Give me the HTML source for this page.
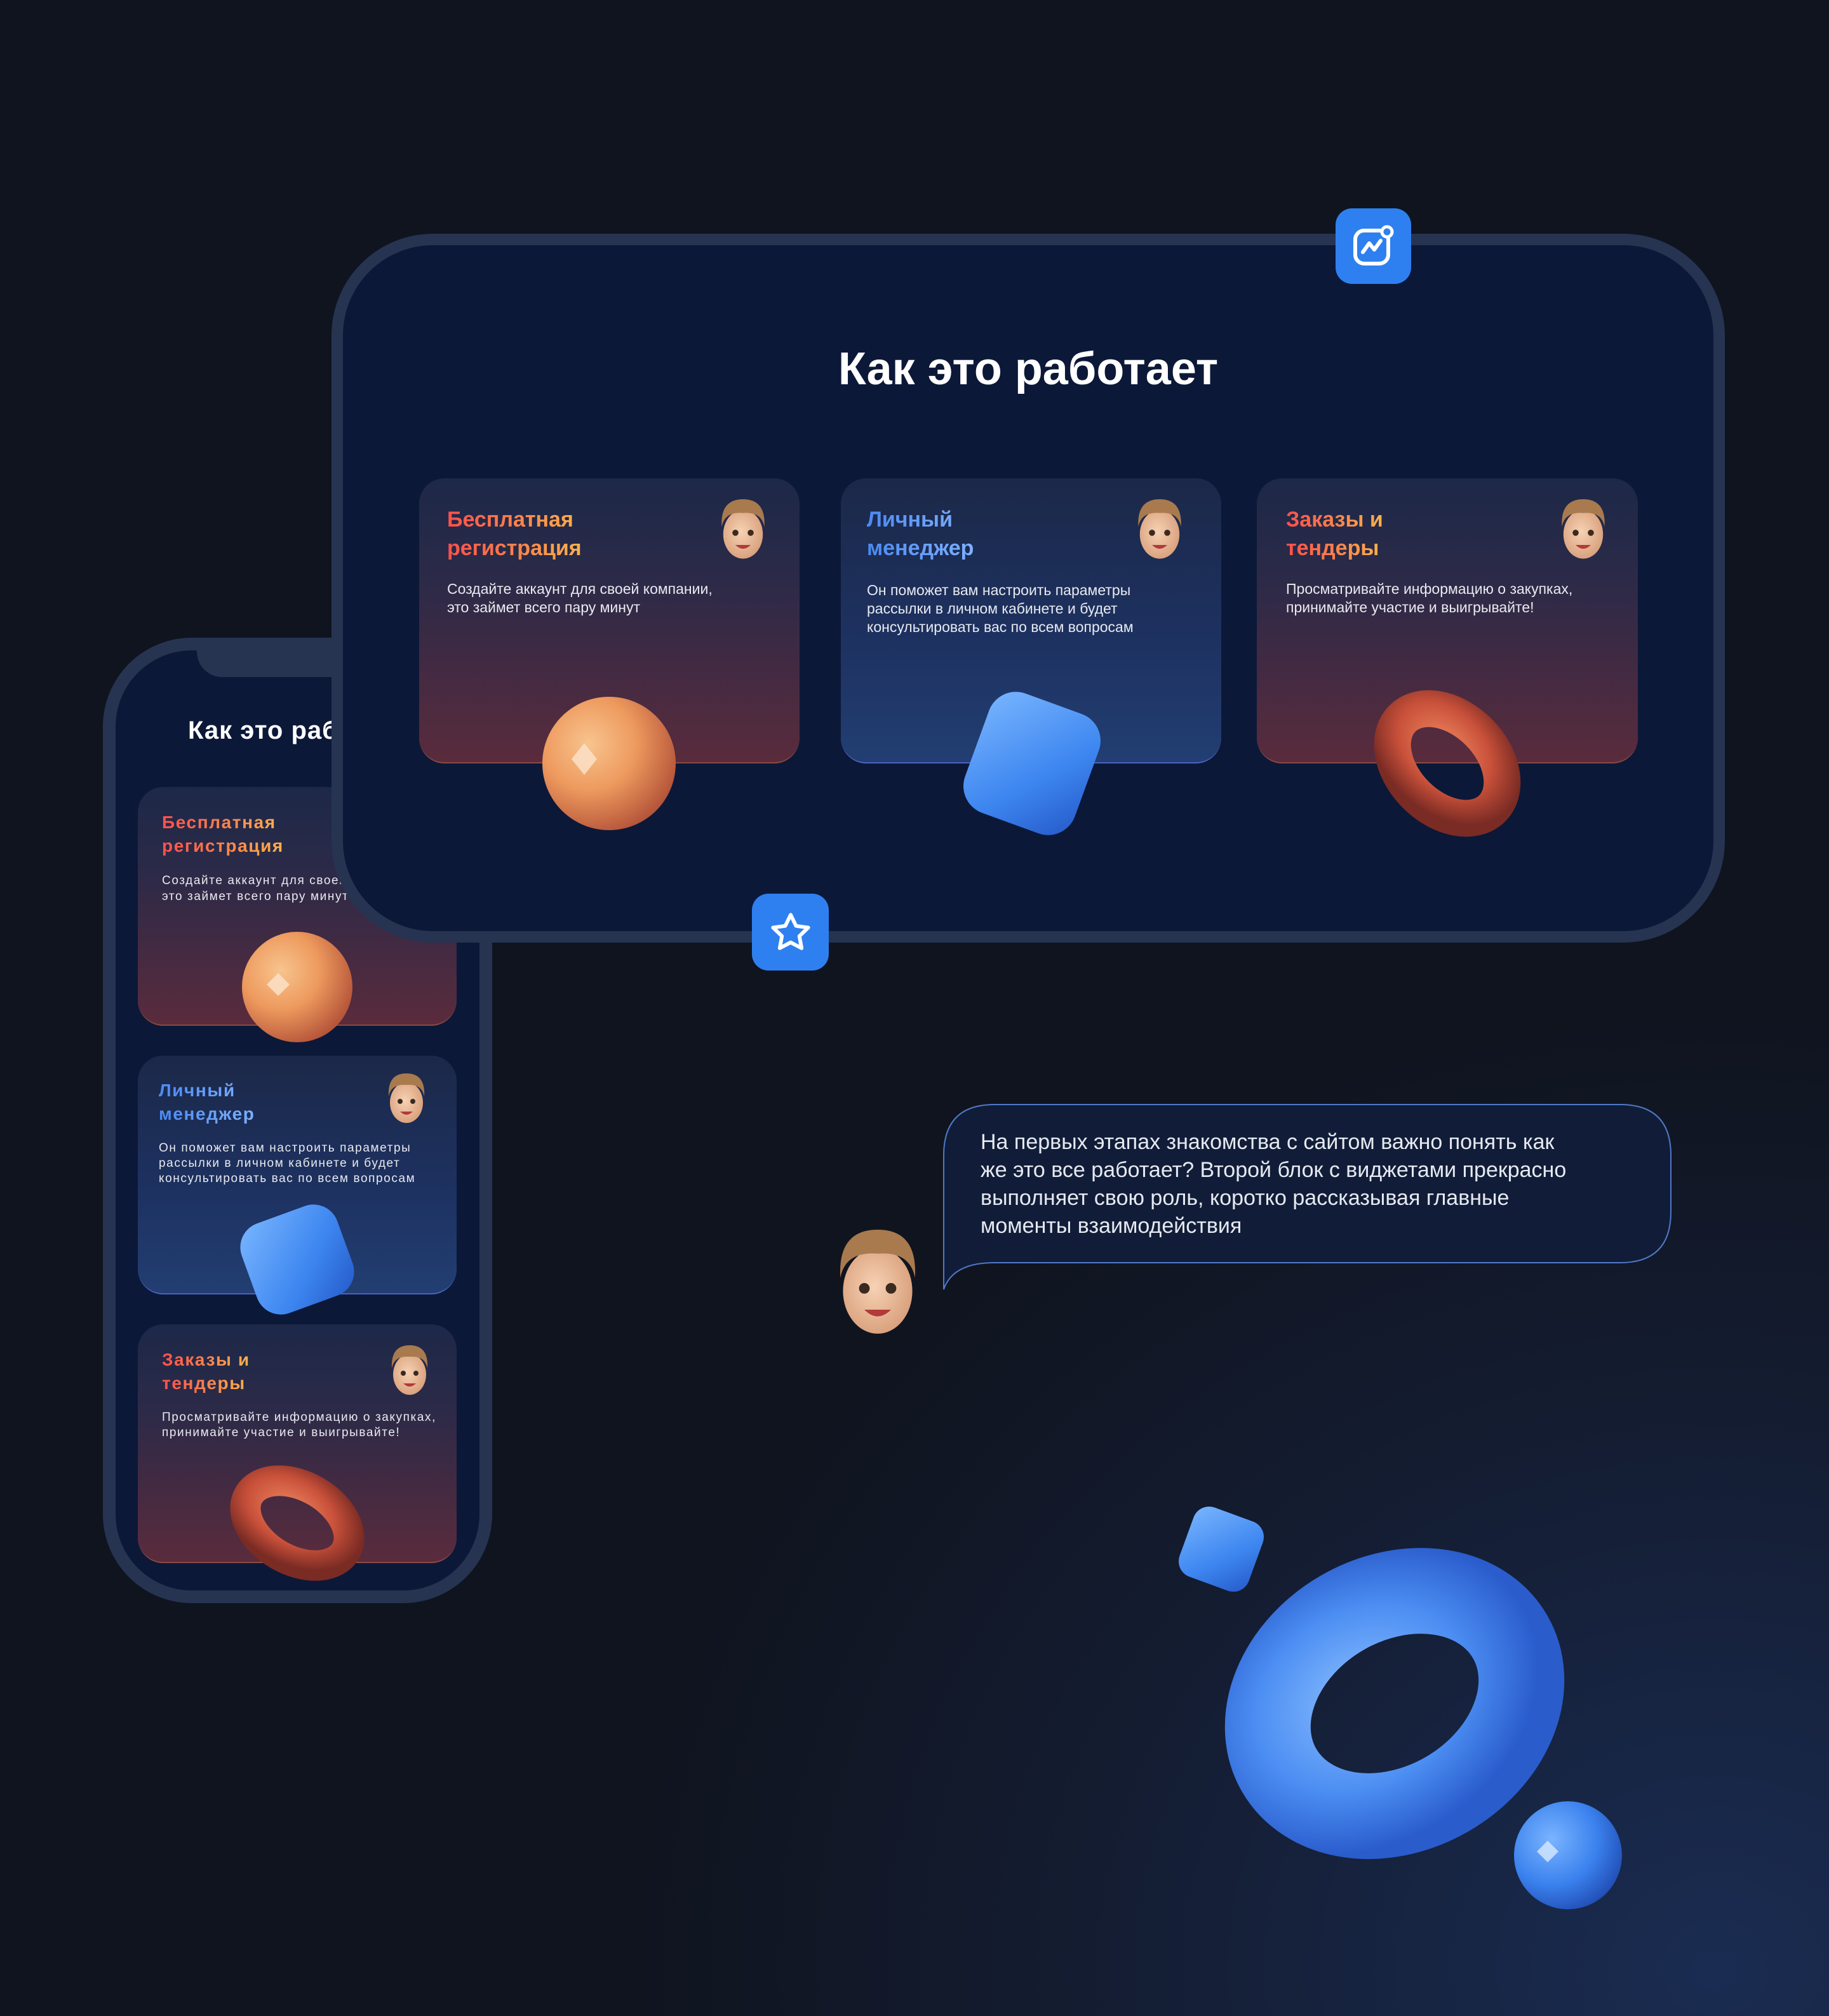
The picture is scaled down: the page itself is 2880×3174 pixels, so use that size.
<!DOCTYPE html>
<html><head><meta charset="utf-8"><style>
*{margin:0;padding:0;box-sizing:border-box}
body{width:2880px;height:3174px;overflow:hidden;position:relative;font-family:"Liberation Sans","Noto Sans CJK SC",sans-serif;
background:radial-gradient(ellipse 1700px 1500px at 2700px 3100px,#1a2c52 0%,#141d33 55%,#10141f 100%);color:#fff}
.abs{position:absolute}
.frame{position:absolute;border:18px solid #263452;background:#0c1838}
.card{position:absolute;border-radius:40px;overflow:hidden}
.red{background:linear-gradient(180deg,#1d2848 0%,#2b2a48 35%,#5a2b3c 100%);border-bottom:2px solid #8a4a40}
.blue{background:linear-gradient(180deg,#1c2848 0%,#1d3160 55%,#223e72 100%);border-bottom:2px solid #4a62c0}
.tt{position:absolute;font-weight:bold}
.tr{background:linear-gradient(90deg,#ff4f4c,#ffb24a);-webkit-background-clip:text;background-clip:text;color:transparent}
.tb{background:linear-gradient(90deg,#4a8af2,#7fb1ff);-webkit-background-clip:text;background-clip:text;color:transparent}
.bd{position:absolute;color:#e8eaf0}
.ph{letter-spacing:1.6px}
.icon{position:absolute;background:#2e80f0;border-radius:26px;display:flex;align-items:center;justify-content:center}
</style></head><body>

<!-- PHONE -->
<div class="frame" style="left:162px;top:1004px;width:613px;height:1520px;border-width:20px;border-radius:140px;background:#0c1838"></div>
<div class="abs" style="left:310px;top:1004px;width:420px;height:62px;background:#263452;border-radius:0 0 0 40px"></div>
<div class="abs" style="left:296px;top:1128px;font-size:40px;font-weight:bold;letter-spacing:1px">Как это работает</div>

<div class="card red" style="left:217px;top:1239px;width:502px;height:376px"></div>
<div class="tt tr ph" style="left:255px;top:1276px;font-size:28px;line-height:37px">Бесплатная<br>регистрация</div>
<div class="bd ph" style="left:255px;top:1374px;font-size:19px;line-height:25px">Создайте аккаунт для своей компании,<br>это займет всего пару минут</div>

<div class="card blue" style="left:217px;top:1662px;width:502px;height:376px"></div>
<div class="tt tb ph" style="left:250px;top:1698px;font-size:28px;line-height:37px">Личный<br>менеджер</div>
<div class="bd ph" style="left:250px;top:1796px;font-size:19px;line-height:24px">Он поможет вам настроить параметры<br>рассылки в личном кабинете и будет<br>консультировать вас по всем вопросам</div>

<div class="card red" style="left:217px;top:2085px;width:502px;height:376px"></div>
<div class="tt tr ph" style="left:255px;top:2122px;font-size:28px;line-height:37px">Заказы и<br>тендеры</div>
<div class="bd ph" style="left:255px;top:2220px;font-size:19px;line-height:24px">Просматривайте информацию о закупках,<br>принимайте участие и выигрывайте!</div>

<svg class="abs" style="left:0;top:0" width="2880" height="3174">
<defs>
<radialGradient id="sph" cx="35%" cy="35%" r="70%"><stop offset="0" stop-color="#f7c48e"/><stop offset=".5" stop-color="#ee9a5e"/><stop offset="1" stop-color="#b5553a"/></radialGradient>
<radialGradient id="bsph" cx="35%" cy="35%" r="70%"><stop offset="0" stop-color="#7ab4ff"/><stop offset=".6" stop-color="#3b82ee"/><stop offset="1" stop-color="#2250b8"/></radialGradient>
<linearGradient id="cube" x1="0" y1="0" x2="1" y2="1"><stop offset="0" stop-color="#7ab6ff"/><stop offset=".6" stop-color="#3d86f0"/><stop offset="1" stop-color="#2559c8"/></linearGradient>
<radialGradient id="tor" cx="40%" cy="40%" r="70%"><stop offset="0" stop-color="#f08a62"/><stop offset=".6" stop-color="#c9513a"/><stop offset="1" stop-color="#7a2b24"/></radialGradient>
<radialGradient id="btor" cx="40%" cy="40%" r="70%"><stop offset="0" stop-color="#8cc0ff"/><stop offset=".6" stop-color="#4b8df2"/><stop offset="1" stop-color="#2a5ccc"/></radialGradient>
<radialGradient id="skin" cx="45%" cy="45%" r="60%"><stop offset="0" stop-color="#f6d2b4"/><stop offset="1" stop-color="#d89e7a"/></radialGradient>
<g id="av"><ellipse cx="0" cy="6" rx="26" ry="32" fill="url(#skin)"/><path d="M-28 -4 Q-30 -40 0 -40 Q30 -40 28 -4 Q24 -24 0 -22 Q-24 -24 -28 -4Z" fill="#a87a4e"/><circle cx="-10" cy="4" r="4" fill="#3a2a20"/><circle cx="10" cy="4" r="4" fill="#3a2a20"/><path d="M-10 20 Q0 30 10 20Z" fill="#b23a3a"/></g>
</defs>
<circle cx="468" cy="1554" r="87" fill="url(#sph)"/>
<path d="M420 1550 L438 1532 L456 1550 L438 1568Z" fill="#fbe0c8" opacity=".85"/>
<g transform="translate(468,1983) rotate(-20)"><rect x="-80" y="-75" width="160" height="150" rx="40" fill="url(#cube)"/></g>
<g transform="translate(468,2398) rotate(30)"><ellipse rx="88" ry="58" fill="none" stroke="url(#tor)" stroke-width="48"/></g>
<use href="#av" transform="translate(640,1730) scale(1)"/>
<use href="#av" transform="translate(645,2158) scale(1)"/>
</svg>

<!-- TABLET -->
<div class="frame" style="left:522px;top:368px;width:2194px;height:1116px;border-radius:160px"></div>
<div class="abs" style="left:522px;top:540px;width:2194px;text-align:center;font-size:72px;font-weight:bold">Как это работает</div>

<div class="card red" style="left:660px;top:753px;width:599px;height:449px"></div>
<div class="tt tr" style="left:704px;top:796px;font-size:34px;line-height:45px">Бесплатная<br>регистрация</div>
<div class="bd" style="left:704px;top:913px;font-size:23px;line-height:29px">Создайте аккаунт для своей компании,<br>это займет всего пару минут</div>

<div class="card blue" style="left:1324px;top:753px;width:599px;height:449px"></div>
<div class="tt tb" style="left:1365px;top:796px;font-size:34px;line-height:45px">Личный<br>менеджер</div>
<div class="bd" style="left:1365px;top:915px;font-size:23px;line-height:29px">Он поможет вам настроить параметры<br>рассылки в личном кабинете и будет<br>консультировать вас по всем вопросам</div>

<div class="card red" style="left:1979px;top:753px;width:600px;height:449px"></div>
<div class="tt tr" style="left:2025px;top:796px;font-size:34px;line-height:45px">Заказы и<br>тендеры</div>
<div class="bd" style="left:2025px;top:913px;font-size:23px;line-height:29px">Просматривайте информацию о закупках,<br>принимайте участие и выигрывайте!</div>

<svg class="abs" style="left:0;top:0" width="2880" height="3174">
<circle cx="959" cy="1202" r="105" fill="url(#sph)"/>
<path d="M900 1195 L920 1170 L940 1195 L920 1220Z" fill="#fbe0c8" opacity=".85"/>
<g transform="translate(1625,1202) rotate(20)"><rect x="-92" y="-100" width="184" height="200" rx="45" fill="url(#cube)"/></g>
<g transform="translate(2279,1202) rotate(45)"><ellipse rx="100" ry="70" fill="none" stroke="url(#tor)" stroke-width="58"/></g>
<use href="#av" transform="translate(1170,834) scale(1.2)"/>
<use href="#av" transform="translate(1826,834) scale(1.2)"/>
<use href="#av" transform="translate(2493,834) scale(1.2)"/>

<path d="M1566 1739 H2551 Q2631 1739 2631 1819 V1908 Q2631 1988 2551 1988 H1566 Q1500 1988 1486 2030 V1819 Q1486 1739 1566 1739Z" fill="#111d38" stroke="#4f79c8" stroke-width="2"/>
<use href="#av" transform="translate(1382,2020) scale(2.1)"/>

<g transform="translate(2196,2682) rotate(-30)"><ellipse rx="210" ry="165" fill="none" stroke="url(#btor)" stroke-width="135"/></g>
<g transform="translate(1923,2439) rotate(20)"><rect x="-58" y="-58" width="116" height="116" rx="26" fill="url(#cube)"/></g>
<circle cx="2469" cy="2921" r="85" fill="url(#bsph)"/>
<path d="M2420 2915 L2437 2898 L2454 2915 L2437 2932Z" fill="#d8e8ff" opacity=".8"/>
</svg>

<div class="bd" style="left:1544px;top:1776px;font-size:34px;line-height:44px;color:#e6e9f0">На первых этапах знакомства с сайтом важно понять как<br>же это все работает? Второй блок с виджетами прекрасно<br>выполняет свою роль, коротко рассказывая главные<br>моменты взаимодействия</div>

<div class="icon" style="left:2103px;top:328px;width:119px;height:119px">
<svg width="70" height="70" viewBox="0 0 70 70"><rect x="6" y="10" width="52" height="52" rx="14" fill="none" stroke="#fff" stroke-width="6"/><path d="M18 44 L28 30 L36 40 L46 26" fill="none" stroke="#fff" stroke-width="6" stroke-linecap="round" stroke-linejoin="round"/><circle cx="56" cy="12" r="8" fill="#2e80f0" stroke="#fff" stroke-width="5"/></svg></div>
<div class="icon" style="left:1184px;top:1407px;width:121px;height:121px">
<svg width="70" height="70" viewBox="0 0 24 24"><path d="M12 2.5l2.9 6 6.6.9-4.8 4.6 1.2 6.5L12 17.4 6.1 20.5l1.2-6.5L2.5 9.4l6.6-.9z" fill="none" stroke="#fff" stroke-width="2" stroke-linejoin="round"/></svg></div>
</body></html>
